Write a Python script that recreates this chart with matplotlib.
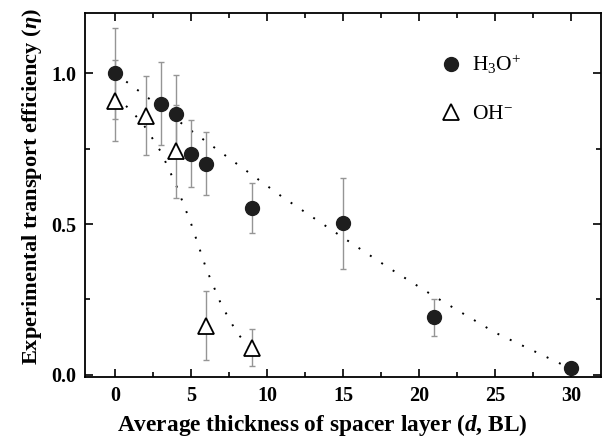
import numpy as np
import matplotlib
matplotlib.use('Agg')
import matplotlib.pyplot as plt
from matplotlib.ticker import MultipleLocator

plt.rcParams['font.family'] = 'Liberation Serif'
plt.rcParams['mathtext.fontset'] = 'custom'
plt.rcParams['mathtext.rm'] = 'Liberation Serif'
plt.rcParams['mathtext.it'] = 'Liberation Serif:italic:bold'
plt.rcParams['mathtext.bf'] = 'Liberation Serif:bold'

# H3O+ data
d_h3o = [0, 3, 4, 5, 6, 9, 15, 21, 30]
eta_h3o = [1.0, 0.90, 0.864, 0.734, 0.70, 0.552, 0.502, 0.19, 0.023]
err_h3o = [0.15, 0.137, 0.13, 0.11, 0.105, 0.083, 0.15, 0.06, 0.0]

# OH- data
d_oh = [0, 2, 4, 6, 9]
eta_oh = [0.91, 0.86, 0.741, 0.163, 0.09]
err_oh = [0.135, 0.13, 0.155, 0.115, 0.06]

# guide curves
fit_h3o_x = [0, 2, 5, 8, 11, 15, 18, 21, 25, 30]
fit_h3o_y = [1.0, 0.925, 0.81, 0.70, 0.59, 0.455, 0.355, 0.26, 0.14, 0.02]
fit_oh_x = [0, 1, 2, 3, 4, 5, 6, 7, 8, 9]
fit_oh_y = [0.92, 0.88, 0.82, 0.74, 0.63, 0.50, 0.35, 0.23, 0.14, 0.08]

fig = plt.figure(figsize=(6.11, 4.40), dpi=100)
ax = fig.add_axes([0.139, 0.143, 0.845, 0.827])

dot = (0, (1, 6))
ax.plot(fit_h3o_x, fit_h3o_y, color='black', lw=1.4, linestyle=dot, zorder=1)
ax.plot(fit_oh_x, fit_oh_y, color='black', lw=1.4, linestyle=dot, zorder=1)

ax.errorbar(d_h3o, eta_h3o, yerr=err_h3o, fmt='none', ecolor='#959595',
            elinewidth=1.0, capsize=2.5, capthick=1.0, zorder=2)
ax.errorbar(d_oh, eta_oh, yerr=err_oh, fmt='none', ecolor='#959595',
            elinewidth=1.0, capsize=2.5, capthick=1.0, zorder=2)

ax.plot(d_h3o, eta_h3o, 'o', color='#1e1e1e', markersize=10, zorder=3,
        label='H$_3$O$^{+}$')
ax.plot(d_oh, eta_oh, '^', markerfacecolor='white', markeredgecolor='black',
        markeredgewidth=1.3, markersize=11, zorder=3, label='OH$^{-}$')

ax.set_xlim(-2, 32)
ax.set_ylim(-0.008, 1.2)
ax.xaxis.set_major_locator(MultipleLocator(5))
ax.xaxis.set_minor_locator(MultipleLocator(2.5))
ax.yaxis.set_major_locator(MultipleLocator(0.5))
ax.yaxis.set_minor_locator(MultipleLocator(0.25))
ax.yaxis.set_major_formatter(matplotlib.ticker.FormatStrFormatter('%.1f'))

ax.tick_params(which='both', direction='in', top=True, right=True, width=1.2)
ax.tick_params(which='major', length=6, labelsize=14.5, pad=6.5)
ax.tick_params(which='minor', length=3.5)
for lab in ax.get_xticklabels() + ax.get_yticklabels():
    lab.set_fontweight('bold')
for sp in ax.spines.values():
    sp.set_linewidth(1.3)

ax.set_xlabel('Average thickness of spacer layer ($d$, BL)', fontsize=16.8,
              fontweight='bold', labelpad=4)
ax.set_ylabel('Experimental transport efficiency ($\\eta$)', fontsize=16.1,
              fontweight='bold', labelpad=5)
ax.xaxis.label.set_x(0.459)
ax.yaxis.label.set_y(0.525)

ax.legend(loc='upper left', bbox_to_anchor=(0.646, 0.943), frameon=False,
          fontsize=15.5, labelspacing=1.3, handletextpad=0.4, handlelength=1.2)

fig.savefig('out.png', dpi=100)
